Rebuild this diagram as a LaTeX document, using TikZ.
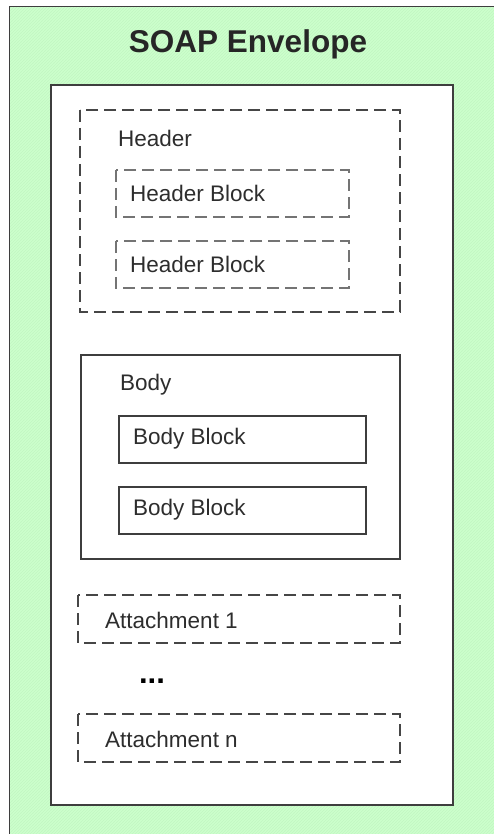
\documentclass[tikz,border=0pt]{standalone}
\usepackage{fontspec}
\setmainfont{Liberation Sans}
\usetikzlibrary{patterns}
\definecolor{envfill}{RGB}{204,255,204}
\definecolor{envhatch}{RGB}{194,246,194}
\definecolor{framec}{RGB}{62,62,62}
\definecolor{dashc}{RGB}{70,70,70}
\definecolor{textc}{RGB}{45,45,45}

\begin{document}
\begin{tikzpicture}[x=1pt, y=-1pt,
  frame/.style={draw=framec, line width=1.5pt},
  dashbox/.style={draw=dashc, line width=1.5pt, dash pattern=on 12pt off 6pt},
  lab/.style={anchor=west, inner sep=0pt, text=textc,
              font=\fontsize{22.5}{27}\selectfont}]

% geometry: 1 unit = 1 pixel of the 494x834 frame, y grows downwards
\useasboundingbox (0,0) rectangle (494,834);

%% ── envelope (runs off the right and bottom edges) ───────────────
\fill[envfill] (9.5,6.5) rectangle (500,840);
\fill[pattern=north east lines, pattern color=envhatch] (9.5,6.5) rectangle (500,840);
\draw[frame] (500,6.5) -- (9.5,6.5) -- (9.5,840);
\node[font=\fontsize{31.5}{38}\selectfont\bfseries, text=black!85] (title) at (248,44) {SOAP Envelope};

%% ── white content area ───────────────────────────────────────────
\draw[frame, fill=white] (51,85) rectangle (453,805);

%% ── header with its blocks ───────────────────────────────────────
\draw[dashbox] (80,110) rectangle (400,312);
\node[lab] (hdr) at (118,138) {Header};
\foreach \y/\n in {170/1, 241/2}{
  \draw[dashbox, draw=dashc!75] (116,\y) rectangle (349,{\y+47});
  \node[lab] (hblk\n) at (130,{\y+23}) {Header Block};
}

%% ── body with its blocks ─────────────────────────────────────────
\draw[frame, line width=1.3pt] (81,355) rectangle (400,559);
\node[lab] (body) at (120,385) {Body};
\foreach \y/\n in {416/1, 487/2}{
  \draw[frame, line width=1.3pt] (119,\y) rectangle (366,{\y+47});
  \node[lab] (bblk\n) at (133,{\y+23}) {Body Block};
}

%% ── attachments ──────────────────────────────────────────────────
\foreach \y/\n in {595/1, 714/n}{
  \draw[dashbox] (78,\y) rectangle (400,{\y+48});
  \node[lab] (att\n) at (105,{\y+25}) {Attachment \n};
}
\node[font=\fontsize{31}{36}\selectfont\bfseries, anchor=south, inner sep=0pt] (dots) at (152,684) {...};

\end{tikzpicture}
\end{document}
